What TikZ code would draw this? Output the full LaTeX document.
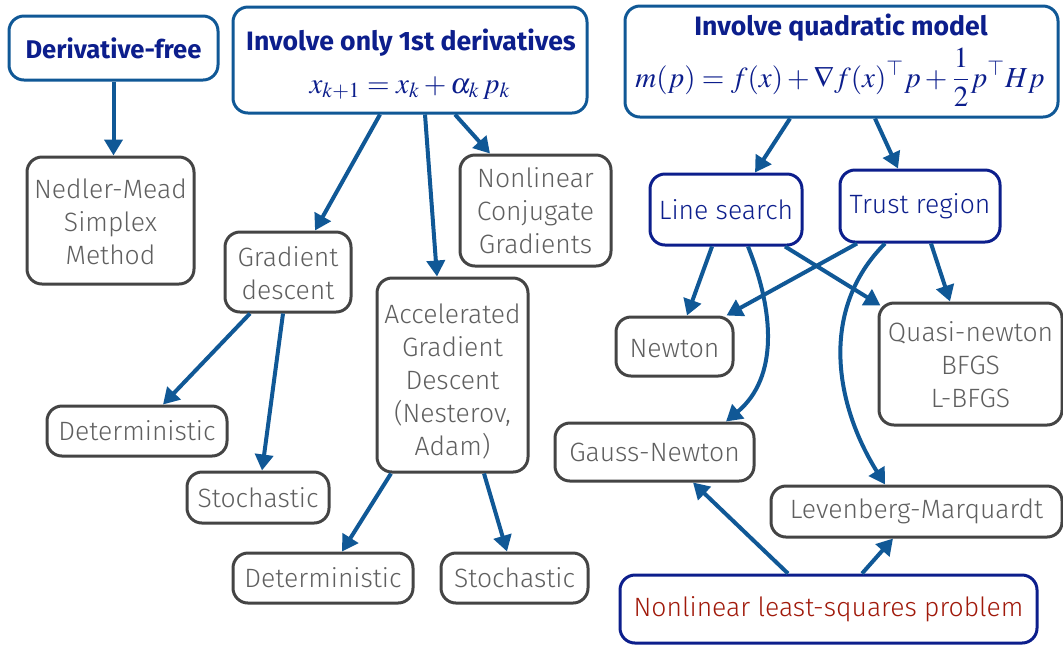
\documentclass[tikz,border=0pt]{standalone}
\usepackage{mathptmx}
\usepackage[no-math]{fontspec}
\setmainfont{Fira Sans Light}[BoldFont={Fira Sans Bold}]
\usetikzlibrary{arrows.meta}
\definecolor{arrblue}{RGB}{16,88,150}
\definecolor{navy}{RGB}{12,30,140}
\definecolor{gborder}{RGB}{68,68,68}
\definecolor{gtext}{RGB}{95,95,95}
\definecolor{dred}{RGB}{160,25,10}
\begin{document}
\begin{tikzpicture}[x=0.5pt,y=-0.5pt,
  base/.style={draw, rounded corners=7.5pt, line width=1.5pt, inner sep=0pt, align=center,
    font=\fontsize{13.25}{16.5}\selectfont},
  gbox/.style={base, draw=gborder, text=gtext},
  tbox/.style={base, draw=arrblue, text=navy},
  nbox/.style={base, draw=navy, text=navy},
  sz/.style 2 args={minimum width=#1*0.5pt, minimum height=#2*0.5pt},
  ttl/.style={text=navy, inner sep=0pt, anchor=base, font=\fontsize{13.3}{16.5}\selectfont\bfseries},
  frm/.style={text=navy, inner sep=0pt, anchor=base, font=\fontsize{14.5}{17}\selectfont},
  arr/.style={draw=arrblue, line width=2pt, -{Triangle[length=8pt,width=9pt]}}
]
\path[use as bounding box] (0,0) rectangle (1063,645);

% top boxes
\node[tbox, sz={209}{64}, font=\fontsize{12.8}{16.5}\selectfont\bfseries] (df) at (113.5,48) {Derivative-free};
\node[tbox, sz={354}{106}] (fd) at (410,60) {};
\node[ttl] (fdt) at (411,50) {Involve only 1st derivatives};
\node[frm] (fdf) at (410,93) {$x_{k+1} = x_k + \alpha_{k}\, p_k$};
\node[tbox, sz={433}{111}] (qm) at (841.5,61.5) {};
\node[ttl] (qmt) at (841,35) {Involve quadratic model};
\node[frm] (qmf) at (840,87) {$\displaystyle m(p) = f(x) + \nabla f(x)^{\top} p + \frac{1}{2} p^{\top} H p$};

% left part
\node[gbox, sz={167}{127}] (nm) at (110.5,220.5) {\rule{0pt}{11pt}Nedler-Mead\\Simplex\\Method};
\node[gbox, sz={126}{80}] (gd) at (288,272) {\rule{0pt}{11pt}Gradient\\descent};
\node[gbox, sz={151}{111}] (ncg) at (535.5,210.5) {Nonlinear\\Conjugate\\Gradients};
\node[gbox, sz={151}{194}] (agd) at (452.5,375) {\rule{0pt}{16pt}Accelerated\\Gradient\\Descent\\(Nesterov,\\Adam)};
\node[gbox, sz={180}{50}] (det1) at (137,431) {Deterministic};
\node[gbox, sz={142}{51}] (sto1) at (258,497.5) {Stochastic};
\node[gbox, sz={180}{50}] (det2) at (323,578) {Deterministic};
\node[gbox, sz={147}{50}] (sto2) at (514.5,578) {Stochastic};

% right part
\node[nbox, sz={152}{71}] (ls) at (726,209.5) {Line search};
\node[nbox, sz={160}{72}] (tr) at (920,206) {Trust region};
\node[gbox, sz={117}{59}] (nt) at (674.5,346.5) {\rule{0pt}{11pt}Newton};
\node[gbox, sz={183}{122}] (qn) at (970.5,364) {\rule{0pt}{11pt}Quasi-newton\\BFGS\\L-BFGS};
\node[gbox, sz={199}{58}] (gn) at (654.5,452) {Gauss-Newton};
\node[gbox, sz={291}{51}] (lm) at (916.5,511.5) {Levenberg-Marquardt};
\node[nbox, sz={417}{68}, text=dred] (nls) at (828.5,609) {Nonlinear least-squares problem};

% arrows
\draw[arr] (df.south) -- (df.south |- nm.north);
\draw[arr] ([xshift=-15pt]fd.south) -- ([xshift=13.5pt]gd.north);
\draw[arr] ([xshift=7.5pt]fd.south) -- ([xshift=-7.75pt]agd.north);
\draw[arr] ([xshift=22.5pt]fd.south) -- ([xshift=-22.75pt]ncg.north);
\draw[arr] ([xshift=-19pt]gd.south) -- ([xshift=13pt]det1.north);
\draw[arr] ([xshift=-2.5pt]gd.south) -- ([xshift=2pt]sto1.north);
\draw[arr] ([xshift=-30.75pt]agd.south) -- ([xshift=9.5pt]det2.north);
\draw[arr] ([xshift=15.75pt]agd.south) -- ([xshift=-3.75pt]sto2.north);
\draw[arr] ([xshift=-25.75pt]qm.south) -- ([xshift=14.5pt]ls.north);
\draw[arr] ([xshift=16.75pt]qm.south) -- ([xshift=-11pt]tr.north);
\draw[arr] ([xshift=-7pt]ls.south) -- ([xshift=6.25pt]nt.north);
\draw[arr] ([xshift=29.5pt]ls.south) -- ([xshift=1.5pt,yshift=-2pt]qn.north west);
\draw[arr] ([xshift=-31.5pt]tr.south) -- ([xshift=-4pt]nt.north east);
\draw[arr] ([xshift=5.5pt]tr.south) -- ([xshift=-10.25pt]qn.north);
\draw[arr] ([xshift=11pt]ls.south) to[out=-68,in=40] ([xshift=35.75pt]gn.north);
\draw[arr] ([xshift=-17.5pt]tr.south) to[out=-135,in=122] ([xshift=-15.75pt]lm.north);
\draw[arr] ([xshift=-20.25pt]nls.north) -- ([xshift=19.25pt]gn.south);
\draw[arr] ([xshift=16.75pt]nls.north) -- ([xshift=-11.75pt]lm.south);
\end{tikzpicture}
\end{document}
